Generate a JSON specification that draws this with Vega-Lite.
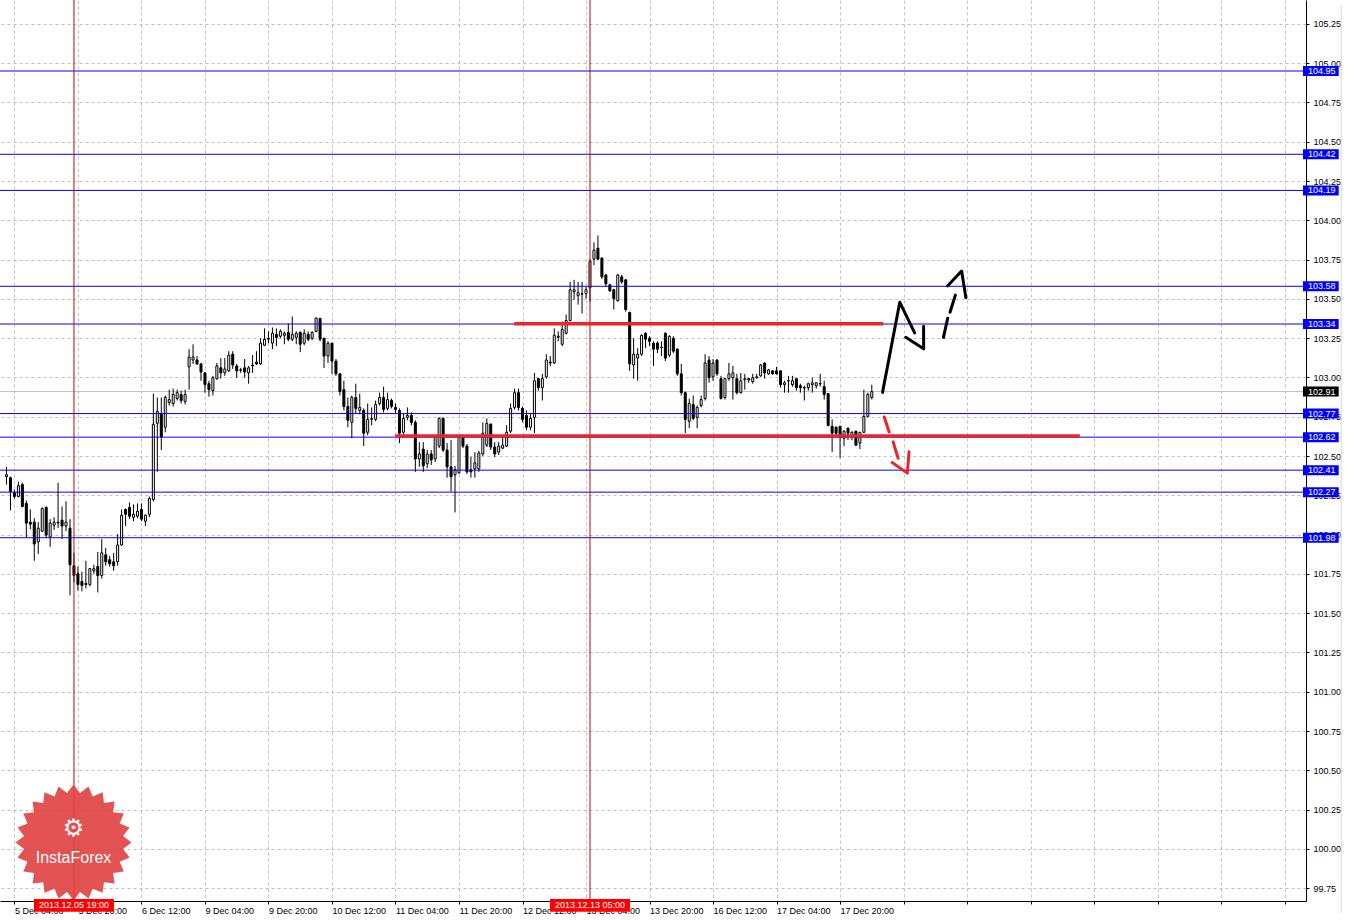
{
"$schema": "https://vega.github.io/schema/vega-lite/v6.json",
"width": 1306, "height": 901,
"autosize": {"type": "none"},
"padding": {"left": 0, "top": 0, "right": 51, "bottom": 19},
"background": "white",
"config": {"view": {"stroke": null}, "font": "Liberation Sans"},
"datasets": {
"candles": [
{"i":0,"o":102.368,"h":102.431,"l":102.318,"c":102.381},
{"i":1,"o":102.362,"h":102.368,"l":102.154,"c":102.273},
{"i":2,"o":102.267,"h":102.286,"l":102.229,"c":102.242},
{"i":3,"o":102.242,"h":102.336,"l":102.236,"c":102.311},
{"i":4,"o":102.318,"h":102.330,"l":102.173,"c":102.179},
{"i":5,"o":102.198,"h":102.217,"l":101.978,"c":102.073},
{"i":6,"o":102.079,"h":102.160,"l":102.035,"c":102.066},
{"i":7,"o":102.079,"h":102.104,"l":101.833,"c":101.940},
{"i":8,"o":101.953,"h":102.079,"l":101.877,"c":102.041},
{"i":9,"o":102.022,"h":102.173,"l":102.016,"c":102.166},
{"i":10,"o":102.173,"h":102.179,"l":101.978,"c":101.997},
{"i":11,"o":101.985,"h":102.098,"l":101.922,"c":102.073},
{"i":12,"o":102.060,"h":102.110,"l":102.029,"c":102.079},
{"i":13,"o":102.073,"h":102.330,"l":102.041,"c":102.079},
{"i":14,"o":102.092,"h":102.179,"l":101.972,"c":102.054},
{"i":15,"o":102.054,"h":102.211,"l":102.022,"c":102.079},
{"i":16,"o":102.041,"h":102.098,"l":101.613,"c":101.808},
{"i":17,"o":101.802,"h":101.884,"l":101.695,"c":101.739},
{"i":18,"o":101.751,"h":101.796,"l":101.644,"c":101.682},
{"i":19,"o":101.701,"h":101.764,"l":101.638,"c":101.676},
{"i":20,"o":101.689,"h":101.833,"l":101.657,"c":101.682},
{"i":21,"o":101.682,"h":101.786,"l":101.670,"c":101.783},
{"i":22,"o":101.770,"h":101.808,"l":101.751,"c":101.783},
{"i":23,"o":101.796,"h":101.890,"l":101.632,"c":101.739},
{"i":24,"o":101.739,"h":101.972,"l":101.720,"c":101.884},
{"i":25,"o":101.871,"h":101.915,"l":101.802,"c":101.827},
{"i":26,"o":101.840,"h":101.865,"l":101.796,"c":101.814},
{"i":27,"o":101.827,"h":101.884,"l":101.770,"c":101.802},
{"i":28,"o":101.827,"h":102.003,"l":101.802,"c":101.934},
{"i":29,"o":101.934,"h":102.160,"l":101.928,"c":102.123},
{"i":30,"o":102.160,"h":102.166,"l":102.054,"c":102.129},
{"i":31,"o":102.173,"h":102.204,"l":102.098,"c":102.117},
{"i":32,"o":102.110,"h":102.192,"l":102.085,"c":102.129},
{"i":33,"o":102.117,"h":102.198,"l":102.104,"c":102.148},
{"i":34,"o":102.160,"h":102.198,"l":102.085,"c":102.098},
{"i":35,"o":102.085,"h":102.129,"l":102.054,"c":102.123},
{"i":36,"o":102.129,"h":102.242,"l":102.110,"c":102.229},
{"i":37,"o":102.223,"h":102.897,"l":102.211,"c":102.702},
{"i":38,"o":102.708,"h":102.872,"l":102.399,"c":102.784},
{"i":39,"o":102.771,"h":102.872,"l":102.538,"c":102.620},
{"i":40,"o":102.683,"h":102.885,"l":102.651,"c":102.872},
{"i":41,"o":102.840,"h":102.922,"l":102.821,"c":102.859},
{"i":42,"o":102.834,"h":102.929,"l":102.815,"c":102.891},
{"i":43,"o":102.866,"h":102.922,"l":102.853,"c":102.903},
{"i":44,"o":102.891,"h":102.916,"l":102.834,"c":102.853},
{"i":45,"o":102.847,"h":102.922,"l":102.828,"c":102.891},
{"i":46,"o":103.067,"h":103.180,"l":102.922,"c":103.130},
{"i":47,"o":103.111,"h":103.211,"l":103.086,"c":103.130},
{"i":48,"o":103.111,"h":103.136,"l":103.080,"c":103.086},
{"i":49,"o":103.086,"h":103.092,"l":102.979,"c":103.035},
{"i":50,"o":103.029,"h":103.032,"l":102.903,"c":102.954},
{"i":51,"o":102.960,"h":102.979,"l":102.878,"c":102.922},
{"i":52,"o":102.916,"h":103.010,"l":102.885,"c":102.998},
{"i":53,"o":102.992,"h":103.092,"l":102.985,"c":103.073},
{"i":54,"o":103.061,"h":103.123,"l":102.992,"c":103.029},
{"i":55,"o":103.029,"h":103.123,"l":103.010,"c":103.054},
{"i":56,"o":103.042,"h":103.167,"l":103.035,"c":103.142},
{"i":57,"o":103.148,"h":103.167,"l":103.054,"c":103.079},
{"i":58,"o":103.073,"h":103.086,"l":102.998,"c":103.042},
{"i":59,"o":103.048,"h":103.061,"l":103.029,"c":103.045},
{"i":60,"o":103.061,"h":103.117,"l":102.998,"c":103.035},
{"i":61,"o":103.029,"h":103.073,"l":102.960,"c":103.061},
{"i":62,"o":103.073,"h":103.142,"l":103.029,"c":103.079},
{"i":63,"o":103.098,"h":103.167,"l":103.079,"c":103.086},
{"i":64,"o":103.086,"h":103.249,"l":103.079,"c":103.218},
{"i":65,"o":103.205,"h":103.312,"l":103.199,"c":103.243},
{"i":66,"o":103.243,"h":103.293,"l":103.218,"c":103.249},
{"i":67,"o":103.218,"h":103.318,"l":103.180,"c":103.281},
{"i":68,"o":103.274,"h":103.312,"l":103.199,"c":103.255},
{"i":69,"o":103.262,"h":103.306,"l":103.249,"c":103.293},
{"i":70,"o":103.268,"h":103.293,"l":103.211,"c":103.281},
{"i":71,"o":103.287,"h":103.344,"l":103.230,"c":103.243},
{"i":72,"o":103.243,"h":103.388,"l":103.230,"c":103.274},
{"i":73,"o":103.255,"h":103.293,"l":103.211,"c":103.281},
{"i":74,"o":103.287,"h":103.293,"l":103.161,"c":103.211},
{"i":75,"o":103.218,"h":103.306,"l":103.205,"c":103.281},
{"i":76,"o":103.274,"h":103.293,"l":103.230,"c":103.243},
{"i":77,"o":103.249,"h":103.293,"l":103.237,"c":103.287},
{"i":78,"o":103.293,"h":103.381,"l":103.287,"c":103.378},
{"i":79,"o":103.375,"h":103.381,"l":103.230,"c":103.243},
{"i":80,"o":103.249,"h":103.252,"l":103.060,"c":103.136},
{"i":81,"o":103.136,"h":103.230,"l":103.092,"c":103.218},
{"i":82,"o":103.218,"h":103.221,"l":103.023,"c":103.104},
{"i":83,"o":103.104,"h":103.117,"l":103.010,"c":103.023},
{"i":84,"o":103.023,"h":103.026,"l":102.885,"c":102.910},
{"i":85,"o":102.922,"h":102.979,"l":102.790,"c":102.815},
{"i":86,"o":102.815,"h":102.872,"l":102.683,"c":102.727},
{"i":87,"o":102.714,"h":102.885,"l":102.613,"c":102.872},
{"i":88,"o":102.872,"h":102.960,"l":102.771,"c":102.803},
{"i":89,"o":102.790,"h":102.897,"l":102.765,"c":102.809},
{"i":90,"o":102.790,"h":102.803,"l":102.563,"c":102.645},
{"i":91,"o":102.651,"h":102.834,"l":102.632,"c":102.733},
{"i":92,"o":102.733,"h":102.809,"l":102.695,"c":102.739},
{"i":93,"o":102.733,"h":102.853,"l":102.721,"c":102.828},
{"i":94,"o":102.834,"h":102.903,"l":102.821,"c":102.872},
{"i":95,"o":102.872,"h":102.941,"l":102.777,"c":102.796},
{"i":96,"o":102.803,"h":102.903,"l":102.790,"c":102.859},
{"i":97,"o":102.853,"h":102.866,"l":102.803,"c":102.815},
{"i":98,"o":102.809,"h":102.834,"l":102.771,"c":102.796},
{"i":99,"o":102.790,"h":102.803,"l":102.582,"c":102.645},
{"i":100,"o":102.651,"h":102.771,"l":102.632,"c":102.739},
{"i":101,"o":102.746,"h":102.809,"l":102.727,"c":102.758},
{"i":102,"o":102.758,"h":102.777,"l":102.695,"c":102.714},
{"i":103,"o":102.714,"h":102.727,"l":102.399,"c":102.481},
{"i":104,"o":102.481,"h":102.588,"l":102.431,"c":102.513},
{"i":105,"o":102.544,"h":102.588,"l":102.399,"c":102.437},
{"i":106,"o":102.450,"h":102.538,"l":102.424,"c":102.513},
{"i":107,"o":102.513,"h":102.538,"l":102.443,"c":102.475},
{"i":108,"o":102.481,"h":102.632,"l":102.462,"c":102.620},
{"i":109,"o":102.563,"h":102.746,"l":102.550,"c":102.739},
{"i":110,"o":102.739,"h":102.746,"l":102.525,"c":102.538},
{"i":111,"o":102.538,"h":102.582,"l":102.362,"c":102.431},
{"i":112,"o":102.431,"h":102.601,"l":102.273,"c":102.368},
{"i":113,"o":102.381,"h":102.437,"l":102.141,"c":102.412},
{"i":114,"o":102.393,"h":102.626,"l":102.387,"c":102.620},
{"i":115,"o":102.620,"h":102.632,"l":102.550,"c":102.563},
{"i":116,"o":102.563,"h":102.576,"l":102.387,"c":102.399},
{"i":117,"o":102.412,"h":102.494,"l":102.362,"c":102.399},
{"i":118,"o":102.418,"h":102.525,"l":102.362,"c":102.456},
{"i":119,"o":102.418,"h":102.532,"l":102.399,"c":102.519},
{"i":120,"o":102.513,"h":102.714,"l":102.500,"c":102.645},
{"i":121,"o":102.569,"h":102.739,"l":102.557,"c":102.708},
{"i":122,"o":102.702,"h":102.708,"l":102.538,"c":102.557},
{"i":123,"o":102.557,"h":102.588,"l":102.494,"c":102.513},
{"i":124,"o":102.525,"h":102.588,"l":102.506,"c":102.563},
{"i":125,"o":102.550,"h":102.620,"l":102.544,"c":102.569},
{"i":126,"o":102.563,"h":102.695,"l":102.557,"c":102.651},
{"i":127,"o":102.658,"h":102.834,"l":102.645,"c":102.803},
{"i":128,"o":102.809,"h":102.929,"l":102.796,"c":102.903},
{"i":129,"o":102.903,"h":102.929,"l":102.790,"c":102.809},
{"i":130,"o":102.803,"h":102.815,"l":102.714,"c":102.733},
{"i":131,"o":102.758,"h":102.790,"l":102.664,"c":102.683},
{"i":132,"o":102.683,"h":102.771,"l":102.664,"c":102.739},
{"i":133,"o":102.746,"h":103.029,"l":102.645,"c":102.979},
{"i":134,"o":102.992,"h":102.998,"l":102.916,"c":102.935},
{"i":135,"o":102.935,"h":103.023,"l":102.853,"c":102.992},
{"i":136,"o":103.004,"h":103.148,"l":102.992,"c":103.111},
{"i":137,"o":103.092,"h":103.136,"l":103.073,"c":103.098},
{"i":138,"o":103.092,"h":103.312,"l":103.086,"c":103.268},
{"i":139,"o":103.255,"h":103.293,"l":103.230,"c":103.262},
{"i":140,"o":103.211,"h":103.356,"l":103.199,"c":103.306},
{"i":141,"o":103.281,"h":103.400,"l":103.274,"c":103.362},
{"i":142,"o":103.362,"h":103.608,"l":103.356,"c":103.558},
{"i":143,"o":103.545,"h":103.621,"l":103.495,"c":103.558},
{"i":144,"o":103.520,"h":103.608,"l":103.463,"c":103.539},
{"i":145,"o":103.533,"h":103.608,"l":103.407,"c":103.530},
{"i":146,"o":103.533,"h":103.577,"l":103.501,"c":103.558},
{"i":147,"o":103.570,"h":103.753,"l":103.482,"c":103.740},
{"i":148,"o":103.753,"h":103.860,"l":103.715,"c":103.810},
{"i":149,"o":103.822,"h":103.904,"l":103.747,"c":103.753},
{"i":150,"o":103.759,"h":103.766,"l":103.627,"c":103.640},
{"i":151,"o":103.652,"h":103.658,"l":103.577,"c":103.596},
{"i":152,"o":103.589,"h":103.596,"l":103.545,"c":103.551},
{"i":153,"o":103.558,"h":103.564,"l":103.432,"c":103.501},
{"i":154,"o":103.488,"h":103.658,"l":103.482,"c":103.652},
{"i":155,"o":103.640,"h":103.652,"l":103.596,"c":103.608},
{"i":156,"o":103.621,"h":103.627,"l":103.419,"c":103.432},
{"i":157,"o":103.413,"h":103.419,"l":103.042,"c":103.086},
{"i":158,"o":103.079,"h":103.249,"l":102.992,"c":103.148},
{"i":159,"o":103.123,"h":103.186,"l":102.979,"c":103.148},
{"i":160,"o":103.148,"h":103.274,"l":103.136,"c":103.268},
{"i":161,"o":103.281,"h":103.287,"l":103.186,"c":103.243},
{"i":162,"o":103.249,"h":103.262,"l":103.199,"c":103.230},
{"i":163,"o":103.218,"h":103.230,"l":103.073,"c":103.180},
{"i":164,"o":103.218,"h":103.230,"l":103.155,"c":103.180},
{"i":165,"o":103.192,"h":103.230,"l":103.136,"c":103.190},
{"i":166,"o":103.281,"h":103.287,"l":103.104,"c":103.123},
{"i":167,"o":103.142,"h":103.268,"l":103.130,"c":103.262},
{"i":168,"o":103.249,"h":103.262,"l":103.155,"c":103.167},
{"i":169,"o":103.180,"h":103.186,"l":103.010,"c":103.023},
{"i":170,"o":103.023,"h":103.086,"l":102.885,"c":102.903},
{"i":171,"o":102.903,"h":102.910,"l":102.645,"c":102.733},
{"i":172,"o":102.721,"h":102.866,"l":102.677,"c":102.834},
{"i":173,"o":102.828,"h":102.885,"l":102.727,"c":102.739},
{"i":174,"o":102.746,"h":102.821,"l":102.677,"c":102.809},
{"i":175,"o":102.821,"h":102.885,"l":102.809,"c":102.859},
{"i":176,"o":102.866,"h":103.148,"l":102.853,"c":103.092},
{"i":177,"o":103.111,"h":103.136,"l":102.966,"c":102.998},
{"i":178,"o":103.004,"h":103.117,"l":102.979,"c":103.092},
{"i":179,"o":103.111,"h":103.114,"l":103.010,"c":103.023},
{"i":180,"o":102.992,"h":103.010,"l":102.859,"c":102.866},
{"i":181,"o":102.872,"h":102.998,"l":102.859,"c":102.992},
{"i":182,"o":102.992,"h":103.092,"l":102.979,"c":103.023},
{"i":183,"o":102.998,"h":103.073,"l":102.859,"c":103.029},
{"i":184,"o":102.992,"h":103.023,"l":102.891,"c":102.903},
{"i":185,"o":102.903,"h":103.029,"l":102.897,"c":102.979},
{"i":186,"o":102.985,"h":103.023,"l":102.922,"c":102.992},
{"i":187,"o":102.992,"h":102.998,"l":102.966,"c":102.985},
{"i":188,"o":102.973,"h":103.023,"l":102.960,"c":102.998},
{"i":189,"o":102.998,"h":103.023,"l":102.992,"c":103.004},
{"i":190,"o":103.010,"h":103.086,"l":103.004,"c":103.079},
{"i":191,"o":103.092,"h":103.095,"l":102.992,"c":103.029},
{"i":192,"o":103.023,"h":103.054,"l":103.017,"c":103.048},
{"i":193,"o":103.042,"h":103.045,"l":103.017,"c":103.023},
{"i":194,"o":103.042,"h":103.067,"l":103.017,"c":103.023},
{"i":195,"o":103.042,"h":103.045,"l":102.935,"c":102.954},
{"i":196,"o":102.954,"h":102.979,"l":102.903,"c":102.966},
{"i":197,"o":102.979,"h":103.010,"l":102.903,"c":102.977},
{"i":198,"o":102.954,"h":103.010,"l":102.941,"c":102.979},
{"i":199,"o":102.992,"h":102.995,"l":102.916,"c":102.935},
{"i":200,"o":102.947,"h":102.960,"l":102.903,"c":102.935},
{"i":201,"o":102.935,"h":102.947,"l":102.853,"c":102.933},
{"i":202,"o":102.935,"h":102.966,"l":102.916,"c":102.960},
{"i":203,"o":102.954,"h":102.998,"l":102.903,"c":102.966},
{"i":204,"o":102.947,"h":102.969,"l":102.929,"c":102.966},
{"i":205,"o":102.960,"h":103.023,"l":102.941,"c":102.958},
{"i":206,"o":102.941,"h":102.979,"l":102.859,"c":102.891},
{"i":207,"o":102.897,"h":102.900,"l":102.689,"c":102.695},
{"i":208,"o":102.689,"h":102.733,"l":102.525,"c":102.645},
{"i":209,"o":102.683,"h":102.689,"l":102.626,"c":102.645},
{"i":210,"o":102.689,"h":102.692,"l":102.488,"c":102.620},
{"i":211,"o":102.613,"h":102.664,"l":102.563,"c":102.658},
{"i":212,"o":102.677,"h":102.680,"l":102.601,"c":102.645},
{"i":213,"o":102.620,"h":102.658,"l":102.601,"c":102.651},
{"i":214,"o":102.658,"h":102.661,"l":102.563,"c":102.569},
{"i":215,"o":102.582,"h":102.651,"l":102.544,"c":102.651},
{"i":216,"o":102.651,"h":102.922,"l":102.645,"c":102.752},
{"i":217,"o":102.752,"h":102.903,"l":102.746,"c":102.891},
{"i":218,"o":102.872,"h":102.954,"l":102.859,"c":102.910}
],
"levels": [
{"p":104.95,"t":"104.95"},{"p":104.42,"t":"104.42"},{"p":104.19,"t":"104.19"},{"p":103.58,"t":"103.58"},{"p":103.34,"t":"103.34"},
{"p":102.77,"t":"102.77"},{"p":102.62,"t":"102.62"},{"p":102.41,"t":"102.41"},{"p":102.27,"t":"102.27"},{"p":101.98,"t":"101.98"}
],
"bid": [{"p":102.91,"t":"102.91"}],
"vlines": [{"i":17,"t":"2013.12.05 19:00"},{"i":147,"t":"2013.12.13 05:00"}],
"frame": [{"i":336.25}],
"redlines": [{"a":127.9,"b":220.9,"p":103.342},{"a":97.9,"b":270.4,"p":102.628}],
"blackpen": [
{"s":"k1","n":0,"x":220.7,"p":102.905},{"s":"k1","n":1,"x":225.05,"p":103.478},{"s":"k1","n":2,"x":228.8,"p":103.283},
{"s":"k2","n":0,"x":226.55,"p":103.255},{"s":"k2","n":1,"x":231.05,"p":103.182},{"s":"k2","n":2,"x":231.05,"p":103.325},
{"s":"k3","n":0,"x":236.05,"p":103.255},{"s":"k3","n":1,"x":237.125,"p":103.377},
{"s":"k4","n":0,"x":237.7,"p":103.415},{"s":"k4","n":1,"x":239.05,"p":103.524},
{"s":"k5","n":0,"x":237.125,"p":103.583},{"s":"k5","n":1,"x":240.625,"p":103.677},{"s":"k5","n":2,"x":241.7,"p":103.507}
],
"redpen": [
{"s":"r1","n":0,"x":221.125,"p":102.748},{"s":"r1","n":1,"x":222.375,"p":102.653},
{"s":"r2","n":0,"x":223.375,"p":102.590},{"s":"r2","n":1,"x":224.625,"p":102.486},
{"s":"r3","n":0,"x":223.125,"p":102.458},{"s":"r3","n":1,"x":226.95,"p":102.391},{"s":"r3","n":2,"x":227.375,"p":102.527}
]
},
"layer": [
{
"data": {"name": "bid"},
"mark": {"type": "rule", "color": "#c0c0c0", "strokeWidth": 1},
"encoding": {
"y": {"field": "p", "type": "quantitative", "scale": {"domain": [99.7, 105.37], "nice": false, "zero": false},
"axis": {"orient": "right", "title": null, "values": [99.75,100,100.25,100.5,100.75,101,101.25,101.5,101.75,102,102.25,102.5,102.75,103,103.25,103.5,103.75,104,104.25,104.5,104.75,105,105.25],
"format": ".2f", "tickSize": 3, "labelPadding": 4, "labelAlign": "left", "labelBaseline": "middle", "labelFont": "Liberation Sans", "labelFontSize": 9, "labelColor": "black",
"tickColor": "black", "domainColor": "black", "grid": true, "gridColor": "#c0c0c0", "gridDash": [3, 3], "labelOverlap": false, "labelFlush": false}}
}
},
{
"data": {"name": "candles"},
"mark": {"type": "rule", "color": "black", "strokeWidth": 1},
"encoding": {
"x": {"field": "i", "type": "quantitative", "scale": {"domain": [-0.375, 326.125], "nice": false, "zero": false},
"axis": {"orient": "bottom", "title": null, "values": [2,10,18,26,34,42,50,58,66,74,82,90,98,106,114,122,130,138,146,154,162,170,178,186,194,202,210,218,226,234,242,250,258,266,274,282,290,298,306,314,322],
"labelExpr": "datum.value==2?'5 Dec 04:00':datum.value==18?'5 Dec 20:00':datum.value==34?'6 Dec 12:00':datum.value==50?'9 Dec 04:00':datum.value==66?'9 Dec 20:00':datum.value==82?'10 Dec 12:00':datum.value==98?'11 Dec 04:00':datum.value==114?'11 Dec 20:00':datum.value==130?'12 Dec 12:00':datum.value==146?'13 Dec 04:00':datum.value==162?'13 Dec 20:00':datum.value==178?'16 Dec 12:00':datum.value==194?'17 Dec 04:00':datum.value==210?'17 Dec 20:00':''",
"labelAlign": "left", "labelBaseline": "top", "labelPadding": 2, "tickSize": 3, "labelFont": "Liberation Sans", "labelFontSize": 9, "labelColor": "black",
"tickColor": "black", "domainColor": "black", "grid": true, "gridColor": "#c0c0c0", "gridDash": [3, 3], "labelOverlap": false, "labelFlush": false, "labelBound": false}},
"y": {"field": "l", "type": "quantitative", "scale": {"domain": [99.7, 105.37], "nice": false, "zero": false}, "axis": {"title": null}},
"y2": {"field": "h"}
}
},
{
"data": {"name": "candles"},
"mark": {"type": "bar", "orient": "vertical", "width": 2, "stroke": "black", "strokeWidth": 1},
"encoding": {
"x": {"field": "i", "type": "quantitative", "scale": {"domain": [-0.375, 326.125], "nice": false, "zero": false}, "axis": {"title": null}},
"y": {"field": "o", "type": "quantitative", "scale": {"domain": [99.7, 105.37], "nice": false, "zero": false}, "axis": {"title": null}},
"y2": {"field": "c"},
"fill": {"condition": {"test": "datum.c < datum.o", "value": "black"}, "value": "white"}
}
},
{
"data": {"name": "levels"},
"mark": {"type": "rule", "color": "#0000ff", "strokeWidth": 1},
"encoding": {
"y": {"field": "p", "type": "quantitative", "scale": {"domain": [99.7, 105.37], "nice": false, "zero": false}, "axis": {"title": null}}
}
},
{
"data": {"name": "vlines"},
"mark": {"type": "rule", "color": "#cc0000", "strokeWidth": 1},
"encoding": {
"x": {"field": "i", "type": "quantitative", "scale": {"domain": [-0.375, 326.125], "nice": false, "zero": false}, "axis": {"title": null}}
}
},
{
"data": {"name": "frame"},
"mark": {"type": "rule", "color": "#d8d8d8", "strokeWidth": 1},
"encoding": {
"x": {"field": "i", "type": "quantitative", "scale": {"domain": [-0.375, 326.125], "nice": false, "zero": false}, "axis": {"title": null}},
"y": {"datum": 105.37, "type": "quantitative", "scale": {"domain": [99.7, 105.37], "nice": false, "zero": false}, "axis": {"title": null}},
"y2": {"datum": 99.593}
}
},
{
"data": {"name": "redlines"},
"mark": {"type": "rule", "color": "#e8262b", "strokeWidth": 3.5},
"encoding": {
"x": {"field": "a", "type": "quantitative", "scale": {"domain": [-0.375, 326.125], "nice": false, "zero": false}, "axis": {"title": null}},
"x2": {"field": "b"},
"y": {"field": "p", "type": "quantitative", "scale": {"domain": [99.7, 105.37], "nice": false, "zero": false}, "axis": {"title": null}}
}
},
{
"data": {"name": "blackpen"},
"mark": {"type": "line", "color": "black", "strokeWidth": 3, "strokeCap": "round", "strokeJoin": "round"},
"encoding": {
"x": {"field": "x", "type": "quantitative", "scale": {"domain": [-0.375, 326.125], "nice": false, "zero": false}, "axis": {"title": null}},
"y": {"field": "p", "type": "quantitative", "scale": {"domain": [99.7, 105.37], "nice": false, "zero": false}, "axis": {"title": null}},
"detail": {"field": "s"},
"order": {"field": "n"}
}
},
{
"data": {"name": "redpen"},
"mark": {"type": "line", "color": "#e8262b", "strokeWidth": 3, "strokeCap": "round", "strokeJoin": "round"},
"encoding": {
"x": {"field": "x", "type": "quantitative", "scale": {"domain": [-0.375, 326.125], "nice": false, "zero": false}, "axis": {"title": null}},
"y": {"field": "p", "type": "quantitative", "scale": {"domain": [99.7, 105.37], "nice": false, "zero": false}, "axis": {"title": null}},
"detail": {"field": "s"},
"order": {"field": "n"}
}
},
{
"data": {"values": [{"k": "logo"}]},
"mark": {"type": "point", "shape": "M1,0L.853,.112L.966,.259L.795,.329L.866,.5L.682,.524L.707,.707L.524,.682L.5,.866L.329,.795L.259,.966L.112,.853L0,1L-.112,.853L-.259,.966L-.329,.795L-.5,.866L-.524,.682L-.707,.707L-.682,.524L-.866,.5L-.795,.329L-.966,.259L-.853,.112L-1,0L-.853,-.112L-.966,-.259L-.795,-.329L-.866,-.5L-.682,-.524L-.707,-.707L-.524,-.682L-.5,-.866L-.329,-.795L-.259,-.966L-.112,-.853L0,-1L.112,-.853L.259,-.966L.329,-.795L.5,-.866L.524,-.682L.707,-.707L.682,-.524L.866,-.5L.795,-.329L.966,-.259L.853,-.112Z",
"size": 13456, "filled": true, "fill": "#e04040", "opacity": 0.9, "strokeWidth": 0},
"encoding": {
"x": {"datum": 16.9, "type": "quantitative", "scale": {"domain": [-0.375, 326.125], "nice": false, "zero": false}, "axis": {"title": null}},
"y": {"datum": 100.04, "type": "quantitative", "scale": {"domain": [99.7, 105.37], "nice": false, "zero": false}, "axis": {"title": null}}
}
},
{
"data": {"values": [{"t": "⚙"}]},
"mark": {"type": "text", "font": "DejaVu Sans", "fontSize": 24, "color": "white", "align": "center", "baseline": "middle"},
"encoding": {
"x": {"datum": 16.9, "type": "quantitative", "scale": {"domain": [-0.375, 326.125], "nice": false, "zero": false}, "axis": {"title": null}},
"y": {"datum": 100.128, "type": "quantitative", "scale": {"domain": [99.7, 105.37], "nice": false, "zero": false}, "axis": {"title": null}},
"text": {"field": "t"}
}
},
{
"data": {"values": [{"t": "InstaForex"}]},
"mark": {"type": "text", "font": "Liberation Sans", "fontSize": 16, "color": "white", "align": "center", "baseline": "middle"},
"encoding": {
"x": {"datum": 16.9, "type": "quantitative", "scale": {"domain": [-0.375, 326.125], "nice": false, "zero": false}, "axis": {"title": null}},
"y": {"datum": 99.945, "type": "quantitative", "scale": {"domain": [99.7, 105.37], "nice": false, "zero": false}, "axis": {"title": null}},
"text": {"field": "t"}
}
},
{
"data": {"name": "levels"},
"mark": {"type": "bar", "orient": "horizontal", "height": 10, "color": "#0000ff"},
"encoding": {
"x": {"datum": 326.625, "type": "quantitative", "scale": {"domain": [-0.375, 326.125], "nice": false, "zero": false}, "axis": {"title": null}},
"x2": {"datum": 335.625},
"y": {"field": "p", "type": "quantitative", "scale": {"domain": [99.7, 105.37], "nice": false, "zero": false}, "axis": {"title": null}}
}
},
{
"data": {"name": "bid"},
"mark": {"type": "bar", "orient": "horizontal", "height": 10, "color": "black"},
"encoding": {
"x": {"datum": 326.625, "type": "quantitative", "scale": {"domain": [-0.375, 326.125], "nice": false, "zero": false}, "axis": {"title": null}},
"x2": {"datum": 335.625},
"y": {"field": "p", "type": "quantitative", "scale": {"domain": [99.7, 105.37], "nice": false, "zero": false}, "axis": {"title": null}}
}
},
{
"data": {"name": "levels"},
"mark": {"type": "text", "font": "Liberation Sans", "fontSize": 9, "color": "white", "align": "left", "baseline": "middle"},
"encoding": {
"x": {"datum": 327.875, "type": "quantitative", "scale": {"domain": [-0.375, 326.125], "nice": false, "zero": false}, "axis": {"title": null}},
"y": {"field": "p", "type": "quantitative", "scale": {"domain": [99.7, 105.37], "nice": false, "zero": false}, "axis": {"title": null}},
"text": {"field": "t"}
}
},
{
"data": {"name": "bid"},
"mark": {"type": "text", "font": "Liberation Sans", "fontSize": 9, "color": "white", "align": "left", "baseline": "middle"},
"encoding": {
"x": {"datum": 327.875, "type": "quantitative", "scale": {"domain": [-0.375, 326.125], "nice": false, "zero": false}, "axis": {"title": null}},
"y": {"field": "p", "type": "quantitative", "scale": {"domain": [99.7, 105.37], "nice": false, "zero": false}, "axis": {"title": null}},
"text": {"field": "t"}
}
},
{
"data": {"name": "vlines"},
"mark": {"type": "bar", "orient": "vertical", "width": 80, "color": "#ff0000"},
"encoding": {
"x": {"field": "i", "type": "quantitative", "scale": {"domain": [-0.375, 326.125], "nice": false, "zero": false}, "axis": {"title": null}},
"y": {"datum": 99.681, "type": "quantitative", "scale": {"domain": [99.7, 105.37], "nice": false, "zero": false}, "axis": {"title": null}},
"y2": {"datum": 99.599}
}
},
{
"data": {"name": "vlines"},
"mark": {"type": "text", "font": "Liberation Sans", "fontSize": 9, "color": "white", "align": "center", "baseline": "middle"},
"encoding": {
"x": {"field": "i", "type": "quantitative", "scale": {"domain": [-0.375, 326.125], "nice": false, "zero": false}, "axis": {"title": null}},
"y": {"datum": 99.64, "type": "quantitative", "scale": {"domain": [99.7, 105.37], "nice": false, "zero": false}, "axis": {"title": null}},
"text": {"field": "t"}
}
}
]
}
